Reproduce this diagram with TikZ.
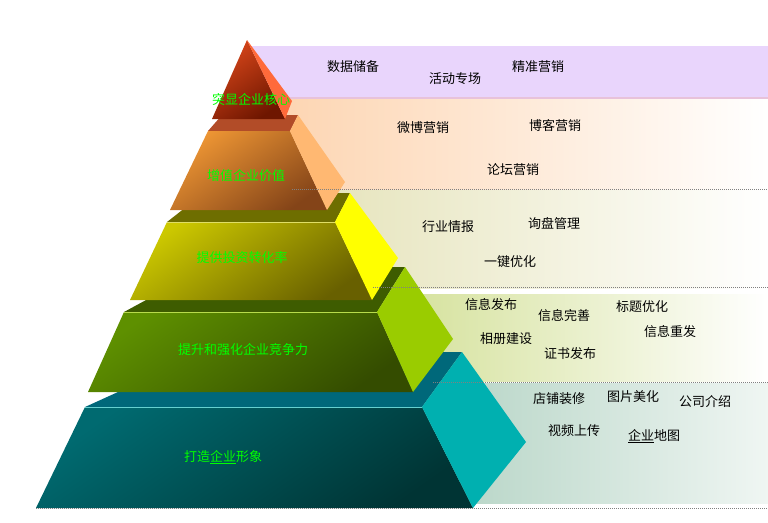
\documentclass[tikz,border=0pt]{standalone}
\usepackage{fontspec}
\setmainfont{Noto Sans CJK SC}

\definecolor{labelgreen}{HTML}{00FF00}
\definecolor{lavband}{HTML}{E9D5FC}
\definecolor{pinkline}{HTML}{E8C2DA}
\definecolor{peachband}{HTML}{FDD3AE}
\definecolor{creamband}{HTML}{E6E4BC}
\definecolor{limeband}{HTML}{D0DE90}
\definecolor{tealband}{HTML}{B0D1C1}
% caras de la piramide
\definecolor{redfront}{HTML}{D8461A}
\definecolor{reddark}{HTML}{6E1600}
\definecolor{redside}{HTML}{FF6A3A}
\definecolor{orangetop}{HTML}{B24C28}
\definecolor{orangefront}{HTML}{EE9634}
\definecolor{orangedark}{HTML}{844418}
\definecolor{orangeside}{HTML}{FFB872}
\definecolor{olivetop}{HTML}{6E6E00}
\definecolor{olivefront}{HTML}{CCC800}
\definecolor{olivedark}{HTML}{686000}
\definecolor{oliveside}{HTML}{FFFF00}
\definecolor{greentop}{HTML}{3E5C00}
\definecolor{greenfront}{HTML}{5E9000}
\definecolor{greendark}{HTML}{344C00}
\definecolor{greenside}{HTML}{9ACC00}
\definecolor{tealtop}{HTML}{00687A}
\definecolor{tealfront}{HTML}{006A70}
\definecolor{tealdark}{HTML}{003434}
\definecolor{tealside}{HTML}{00B0B0}

\begin{document}
\begin{tikzpicture}[x=1pt,y=-1pt]

    \tikzset{levellabel/.style={text=labelgreen,inner sep=0pt,font=\fontsize{13}{15}\selectfont}}
    \tikzset{itemtext/.style={inner sep=0pt,font=\fontsize{13}{15}\selectfont}}
    \tikzset{sep/.style={gray,line width=0.8pt,dash pattern=on 1pt off 1pt}}
    \tikzset{faceshade/.style 2 args={top color=#1,bottom color=#2,shading angle=35}}

    \useasboundingbox (0,0) rectangle (768,522);

    % bandas
    \fill[lavband] (250,46) rectangle (768,98);
    \draw[pinkline,line width=1.5pt] (250,98) -- (768,98);
    \shade[left color=peachband,right color=white] (255,99) rectangle (768,189);
    \shade[left color=creamband,right color=white] (320,190) rectangle (768,288);
    \shade[left color=limeband,right color=white] (360,294) rectangle (768,381);
    \shade[left color=tealband,right color=tealband!20!white] (410,383) rectangle (768,503);

    % nivel 5
    \fill[tealtop] (85,407) -- (206,352) -- (462,352) -- (422,407) -- cycle;
    \shade[faceshade={tealfront}{tealdark}]
        (85,407) -- (422,407) -- (473,508) -- (36,508) -- cycle;
    \draw[tealside!60!white,line width=1pt] (85,407) -- (422,407);
    \fill[tealside] (422,407) -- (462,352) -- (526,442) -- (473,508) -- cycle;

    % nivel 4
    \fill[greentop] (124,312) -- (207,267) -- (405,267) -- (377,312) -- cycle;
    \shade[faceshade={greenfront}{greendark}]
        (124,312) -- (377,312) -- (413,392) -- (88,392) -- cycle;
    \draw[greenside!70!white,line width=1pt] (124,312) -- (377,312);
    \fill[greenside] (377,312) -- (405,267) -- (453,339) -- (413,392) -- cycle;

    % nivel 3
    \fill[olivetop] (167,222) -- (204,193) -- (350,193) -- (335,222) -- cycle;
    \shade[faceshade={olivefront}{olivedark}]
        (167,222) -- (335,222) -- (372,300) -- (130,300) -- cycle;
    \draw[olivefront!60!white,line width=1pt] (167,222) -- (335,222);
    \fill[oliveside] (335,222) -- (350,193) -- (398,258) -- (372,300) -- cycle;

    % nivel 2
    \fill[orangetop] (208,131) -- (222,115) -- (298,115) -- (290,131) -- cycle;
    \shade[faceshade={orangefront}{orangedark}]
        (208,131) -- (290,131) -- (327,210) -- (170,210) -- cycle;
    \fill[orangeside] (290,131) -- (298,115) -- (345,182) -- (327,210) -- cycle;

    % nivel 1
    \shade[faceshade={redfront}{reddark}]
        (247,40) -- (285,119) -- (212,119) -- cycle;
    \fill[redside] (247,40) -- (285,119) -- (292,101) -- cycle;

    % lineas punteadas
    \draw[sep] (292,189) -- (768,189);
    \draw[sep] (373,287) -- (768,287);
    \draw[sep] (433,382) -- (768,382);
    \draw[sep] (36,508) -- (768,508);

    \node[levellabel] (lbl1) at (251,100) {突显企业核心};
    \node[levellabel] (lbl2) at (246,176) {增值企业价值};
    \node[levellabel] (lbl3) at (242,258) {提供投资转化率};
    \node[levellabel] (lbl4) at (243,350) {提升和强化企业竞争力};
    \node[levellabel] (lbl5) at (223,457) {打造\underline{企业}形象};

    \node[itemtext] (datos) at (353,67) {数据储备};
    \node[itemtext] (huodong) at (455,79) {活动专场};
    \node[itemtext] (jingzhun) at (538,67) {精准营销};

    \node[itemtext] (weibo) at (423,128) {微博营销};
    \node[itemtext] (boke) at (555,126) {博客营销};
    \node[itemtext] (luntan) at (513,170) {论坛营销};

    \node[itemtext] (hangye) at (448,227) {行业情报};
    \node[itemtext] (xunpan) at (554,223) {询盘管理};
    \node[itemtext] (yijian) at (510,262) {一键优化};

    \node[itemtext] (fabu) at (491,305) {信息发布};
    \node[itemtext] (wanshan) at (564,316) {信息完善};
    \node[itemtext] (biaoti) at (642,307) {标题优化};
    \node[itemtext] (xiangce) at (506,339) {相册建设};
    \node[itemtext] (chongfa) at (670,332) {信息重发};
    \node[itemtext] (zhengshu) at (570,354) {证书发布};

    \node[itemtext] (dianpu) at (559,399) {店铺装修};
    \node[itemtext] (tupian) at (633,397) {图片美化};
    \node[itemtext] (gongsi) at (705,402) {公司介绍};
    \node[itemtext] (shipin) at (574,431) {视频上传};
    \node[itemtext] (ditu) at (654,436) {\underline{企业}地图};

\end{tikzpicture}
\end{document}
